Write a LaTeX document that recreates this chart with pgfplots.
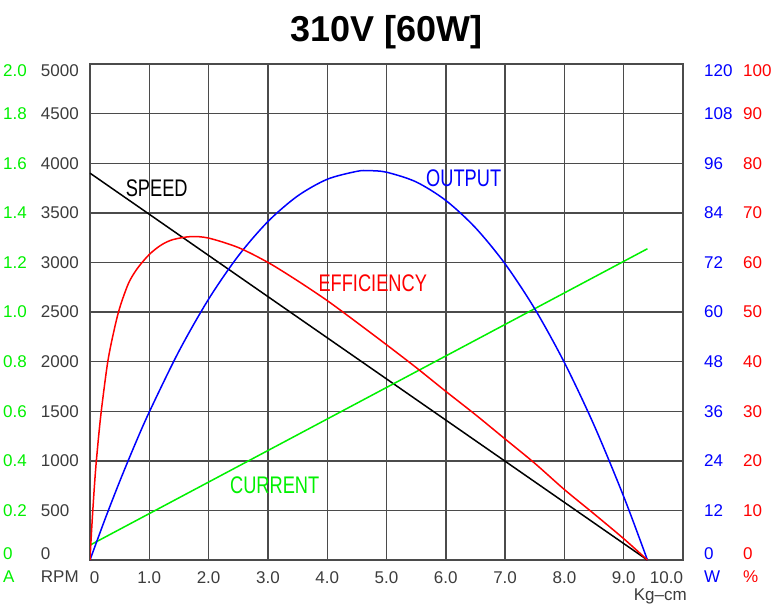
\documentclass[border=0pt]{standalone}
\usepackage{pgfplots}
\pgfplotsset{compat=1.18}
\usepackage{fontspec}
\setmainfont{Liberation Sans}
\newfontfamily\labfont[FakeStretch=0.76]{Liberation Sans}
\definecolor{tickgray}{RGB}{60,60,60}
\definecolor{gridgray}{RGB}{75,75,75}
\definecolor{cgreen}{RGB}{0,240,0}
\definecolor{cblue}{RGB}{0,0,255}
\definecolor{cred}{RGB}{255,0,0}
\newcommand{\tf}{\fontsize{17}{20}\selectfont}
\newcommand{\lf}{\labfont\fontsize{24}{28}\selectfont}
\newcommand{\dn}[1]{\raisebox{-7pt}[\height][\depth]{#1}}
\newcommand{\up}[1]{\raisebox{6pt}[\height][\depth]{#1}}
\pgfplotsset{
  base/.style={scale only axis, width=593pt, height=496pt, at={(0,0)}, anchor=south west,
    xmin=0, xmax=10, clip mode=individual,
    /pgf/number format/assume math mode=true,
    major tick length=0pt, tick style={draw=none},
    yticklabel style={font=\tf, inner sep=0pt, anchor=west}},
  overlay/.style={base, hide x axis, axis line style={draw=none}, y axis line style={draw=none}},
}
\begin{document}
\begin{tikzpicture}
\path[use as bounding box] (-90pt,-51pt) rectangle (686pt,560pt);
% main axis: RPM
\begin{axis}[base, ymin=0, ymax=5000,
  xtick={0,1,2,3,4,5,6,7,8,9,10},
  xticklabels={\makebox[0pt][l]{0},1.0,2.0,3.0,4.0,5.0,6.0,7.0,8.0,9.0,\makebox[0pt][r]{10.0}},
  ytick={0,500,1000,1500,2000,2500,3000,3500,4000,4500,5000},
  yticklabels={\up{0},500,1000,1500,2000,2500,3000,3500,4000,4500,\dn{5000}},
  grid=major, major grid style={gridgray, line width=1.4pt},
  axis line style={gridgray, line width=1.8pt},
  xticklabel style={font=\tf, text=tickgray, inner sep=0pt, anchor=north, yshift=-11pt},
  yticklabel style={text=tickgray, xshift=-49.3pt},
]
\addplot[black, line width=1.5pt] coordinates {(0,3900) (9.4,0)};
\node[font=\lf, anchor=base west, inner sep=0pt, text=black] at (axis cs:0.6,3662) {SPEED};
\node[font=\lf, anchor=base west, inner sep=0pt, text=cred] at (axis cs:3.85,2705) {EFFICIENCY};
\node[font=\lf, anchor=base west, inner sep=0pt, text=cblue] at (axis cs:5.666,3770) {OUTPUT};
\node[font=\lf, anchor=base west, inner sep=0pt, text=cgreen] at (axis cs:2.36,675) {CURRENT};
\node[font=\fontsize{36}{40}\selectfont\bfseries, anchor=base, inner sep=0pt, yshift=23pt] at (rel axis cs:0.5,1) {310V [60W]};
\node[font=\tf, text=cgreen, anchor=north west, inner sep=0pt, xshift=-87pt, yshift=-11pt] at (rel axis cs:0,0) {A};
\node[font=\tf, text=tickgray, anchor=north west, inner sep=0pt, xshift=-49.3pt, yshift=-11pt] at (rel axis cs:0,0) {RPM};
\node[font=\tf, text=cblue, anchor=north west, inner sep=0pt, xshift=21pt, yshift=-11pt] at (rel axis cs:1,0) {W};
\node[font=\tf, text=cred, anchor=north west, inner sep=0pt, xshift=60pt, yshift=-11pt] at (rel axis cs:1,0) {\%};
\node[font=\tf, text=tickgray, anchor=north east, inner sep=0pt, xshift=4pt, yshift=-29pt] at (rel axis cs:1,0) {Kg--cm};
\end{axis}
% current axis
\begin{axis}[overlay, ymin=0, ymax=2, axis y line*=left,
  ytick={0,0.2,0.4,0.6,0.8,1.0,1.2,1.4,1.6,1.8,2.0},
  yticklabels={\up{0},0.2,0.4,0.6,0.8,1.0,1.2,1.4,1.6,1.8,\dn{2.0}},
  yticklabel style={text=cgreen, xshift=-87pt}]
\addplot[cgreen, line width=1.5pt] coordinates {(0,0.06) (9.4,1.255)};
\end{axis}
% output axis
\begin{axis}[overlay, ymin=0, ymax=120, axis y line*=right,
  ytick={0,12,24,36,48,60,72,84,96,108,120},
  yticklabels={\up{0},12,24,36,48,60,72,84,96,108,\dn{120}},
  yticklabel style={text=cblue, xshift=21pt}]
\addplot[cblue, line width=1.5pt, smooth] table {
T W
0 0
0.25 9.75
0.5 18.98
0.75 27.67
1.0 35.82
1.5 50.52
2.0 63.11
2.5 73.56
3.0 81.88
3.5 88.06
4.0 92.11
4.5 94.03
4.7 94.20
5.0 93.82
5.5 91.47
6.0 86.99
6.5 80.38
7.0 71.64
7.5 60.77
8.0 47.76
8.5 32.62
9.0 15.35
9.4 0
};
\end{axis}
% efficiency axis
\begin{axis}[overlay, ymin=0, ymax=100, axis y line*=right,
  ytick={0,10,20,30,40,50,60,70,80,90,100},
  yticklabels={\up{0},10,20,30,40,50,60,70,80,90,\dn{100}},
  yticklabel style={text=cred, xshift=60pt}]
\addplot[cred, line width=1.5pt, smooth] table {
T E
0 0
0.01 2.3
0.02 4.5
0.035 7.6
0.05 10.5
0.075 15.0
0.1 19.0
0.15 25.5
0.2 31.0
0.3 40.0
0.4 46.0
0.5 50.8
0.65 55.8
0.8 58.8
1.0 61.6
1.2 63.5
1.4 64.6
1.7 65.2
2.0 64.9
2.5 63.0
3.0 60.0
3.5 56.3
4.0 52.3
4.5 47.9
5.0 43.4
5.5 38.8
6.0 34.0
6.5 29.3
7.0 24.4
7.5 19.5
8.0 14.2
8.5 9.3
9.0 4.3
9.4 0
};
\end{axis}
\end{tikzpicture}
\end{document}
